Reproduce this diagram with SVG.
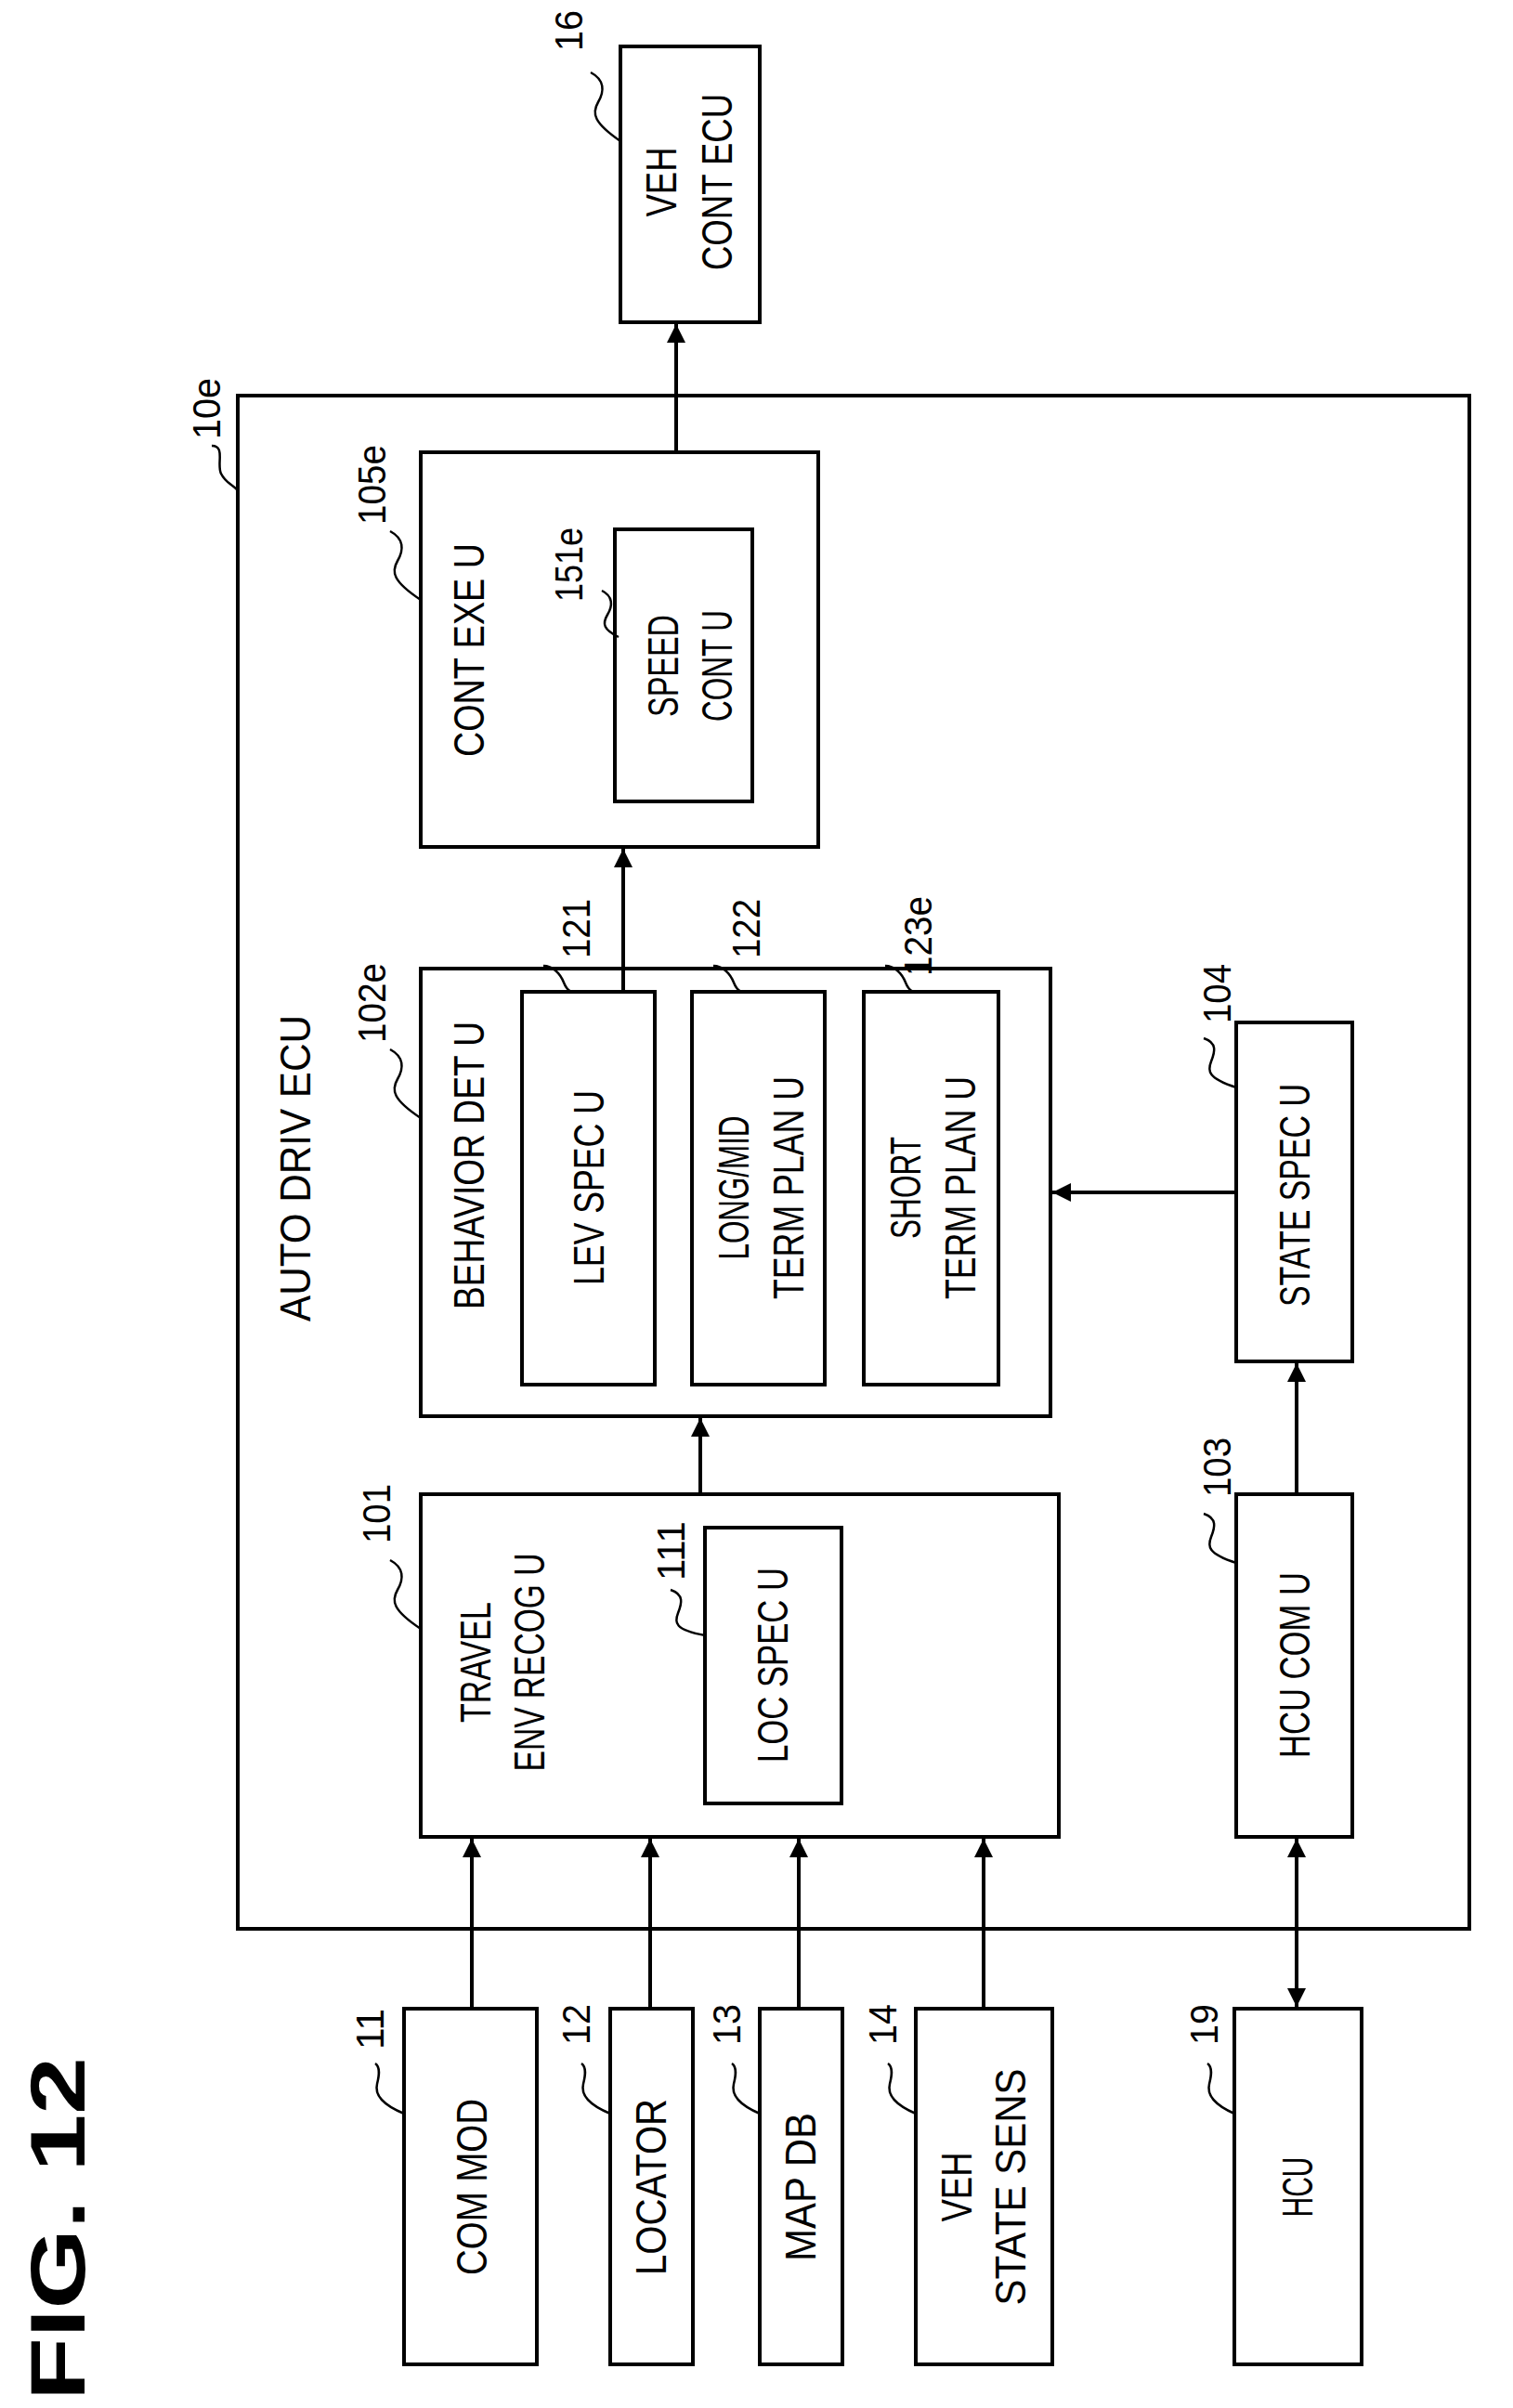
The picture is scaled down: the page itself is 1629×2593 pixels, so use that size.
<svg xmlns="http://www.w3.org/2000/svg" width="1629" height="2593" viewBox="0 0 1629 2593">
<style>
.b{fill:none;stroke:#000;stroke-width:4}
.c{fill:none;stroke:#000;stroke-width:4}
.l{fill:none;stroke:#000;stroke-width:2.5}
text{font-family:"Liberation Sans",Arial,sans-serif;font-size:46px;fill:#000;text-anchor:middle;dominant-baseline:central}
.n{font-size:42px}
</style>
<defs>
<marker id="a" viewBox="0 0 10 10" refX="10" refY="5" markerWidth="22" markerHeight="20" markerUnits="userSpaceOnUse" orient="auto-start-reverse"><path d="M0,0L10,5L0,10z" fill="#000"/></marker>
</defs>
<rect width="1629" height="2593" fill="#fff"/>
<text transform="translate(62 2400) rotate(-90)" style="font-size:84px;font-weight:bold" textLength="370" lengthAdjust="spacingAndGlyphs">FIG. 12</text>

<g id="n10e"><rect class="b" x="256" y="426" width="1326" height="1651"/>
<text transform="translate(318 1258) rotate(-90)" textLength="330" lengthAdjust="spacingAndGlyphs">AUTO DRIV ECU</text>
<text class="n" transform="translate(222 440) rotate(-90)" textLength="66" lengthAdjust="spacingAndGlyphs">10e</text>
<path class="l" d="M228 480c15 0 5 20 10 30s10 10 18 18"/></g>

<g id="n16"><rect class="b" x="668" y="50" width="150" height="297"/>
<text transform="translate(712 196) rotate(-90)" textLength="75" lengthAdjust="spacingAndGlyphs">VEH</text>
<text transform="translate(772 196) rotate(-90)" textLength="190" lengthAdjust="spacingAndGlyphs">CONT ECU</text>
<text class="n" transform="translate(612 33) rotate(-90)" textLength="44" lengthAdjust="spacingAndGlyphs">16</text>
<path class="l" d="M636 78c15 8 15 20 8 32s-5 22 24 42"/></g>

<g id="n105e"><rect class="b" x="453" y="487" width="428" height="425"/>
<text transform="translate(505 700) rotate(-90)" textLength="230" lengthAdjust="spacingAndGlyphs">CONT EXE U</text>
<text class="n" transform="translate(400 522) rotate(-90)" textLength="86" lengthAdjust="spacingAndGlyphs">105e</text>
<path class="l" d="M420 572c15 8 15 20 8 32s-5 22 25 42"/></g>

<g id="n151e"><rect class="b" x="662" y="570" width="148" height="293"/>
<text transform="translate(714 717) rotate(-90)" textLength="110" lengthAdjust="spacingAndGlyphs">SPEED</text>
<text transform="translate(772 717) rotate(-90)" textLength="120" lengthAdjust="spacingAndGlyphs">CONT U</text>
<text class="n" transform="translate(612 608) rotate(-90)" textLength="80" lengthAdjust="spacingAndGlyphs">151e</text>
<path class="l" d="M648 636c12 6 12 16 6 26s-4 16 12 24"/></g>

<g id="n102e"><rect class="b" x="453" y="1043" width="678" height="482"/>
<text transform="translate(505 1255) rotate(-90)" textLength="310" lengthAdjust="spacingAndGlyphs">BEHAVIOR DET U</text>
<text class="n" transform="translate(400 1080) rotate(-90)" textLength="86" lengthAdjust="spacingAndGlyphs">102e</text>
<path class="l" d="M420 1130c15 8 15 20 8 32s-5 22 25 42"/></g>

<g id="n121"><rect class="b" x="562" y="1068" width="143" height="423"/>
<text transform="translate(634 1279) rotate(-90)" textLength="210" lengthAdjust="spacingAndGlyphs">LEV SPEC U</text>
<text class="n" transform="translate(620 1000) rotate(-90)" textLength="64" lengthAdjust="spacingAndGlyphs">121</text>
<path class="l" d="M585 1040c10 0 18 8 22 18s8 10 14 10"/></g>

<g id="n122"><rect class="b" x="745" y="1068" width="143" height="423"/>
<text transform="translate(790 1279) rotate(-90)" textLength="155" lengthAdjust="spacingAndGlyphs">LONG/MID</text>
<text transform="translate(849 1279) rotate(-90)" textLength="240" lengthAdjust="spacingAndGlyphs">TERM PLAN U</text>
<text class="n" transform="translate(803 1000) rotate(-90)" textLength="64" lengthAdjust="spacingAndGlyphs">122</text>
<path class="l" d="M768 1040c10 0 18 8 22 18s8 10 14 10"/></g>

<g id="n123e"><rect class="b" x="930" y="1068" width="145" height="423"/>
<text transform="translate(975 1279) rotate(-90)" textLength="110" lengthAdjust="spacingAndGlyphs">SHORT</text>
<text transform="translate(1034 1279) rotate(-90)" textLength="240" lengthAdjust="spacingAndGlyphs">TERM PLAN U</text>
<text class="n" transform="translate(988 1008) rotate(-90)" textLength="86" lengthAdjust="spacingAndGlyphs">123e</text>
<path class="l" d="M953 1040c10 0 18 8 22 18s8 10 14 10"/></g>

<g id="n104"><rect class="b" x="1331" y="1101" width="125" height="365"/>
<text transform="translate(1394 1287) rotate(-90)" textLength="240" lengthAdjust="spacingAndGlyphs">STATE SPEC U</text>
<text class="n" transform="translate(1310 1070) rotate(-90)" textLength="64" lengthAdjust="spacingAndGlyphs">104</text>
<path class="l" d="M1296 1118c15 5 12 15 8 25s-4 18 27 28"/></g>

<g id="n101"><rect class="b" x="453" y="1609" width="687" height="369"/>
<text transform="translate(512 1790) rotate(-90)" textLength="130" lengthAdjust="spacingAndGlyphs">TRAVEL</text>
<text transform="translate(570 1790) rotate(-90)" textLength="235" lengthAdjust="spacingAndGlyphs">ENV RECOG U</text>
<text class="n" transform="translate(405 1630) rotate(-90)" textLength="64" lengthAdjust="spacingAndGlyphs">101</text>
<path class="l" d="M420 1680c15 8 15 20 8 32s-5 22 25 42"/></g>

<g id="n111"><rect class="b" x="759" y="1645" width="147" height="297"/>
<text transform="translate(832 1793) rotate(-90)" textLength="210" lengthAdjust="spacingAndGlyphs">LOC SPEC U</text>
<text class="n" transform="translate(722 1670) rotate(-90)" textLength="64" lengthAdjust="spacingAndGlyphs">111</text>
<path class="l" d="M722 1712c15 5 12 15 8 25s-4 18 29 24"/></g>

<g id="n103"><rect class="b" x="1331" y="1609" width="125" height="369"/>
<text transform="translate(1394 1793) rotate(-90)" textLength="200" lengthAdjust="spacingAndGlyphs">HCU COM U</text>
<text class="n" transform="translate(1310 1580) rotate(-90)" textLength="64" lengthAdjust="spacingAndGlyphs">103</text>
<path class="l" d="M1296 1630c15 5 12 15 8 25s-4 18 27 28"/></g>

<g id="n11"><rect class="b" x="435" y="2163" width="143" height="383"/>
<text transform="translate(508 2355) rotate(-90)" textLength="190" lengthAdjust="spacingAndGlyphs">COM MOD</text>
<text class="n" transform="translate(398 2185) rotate(-90)" textLength="44" lengthAdjust="spacingAndGlyphs">11</text>
<path class="l" d="M404 2222c6 4 4 14 2 22s0 20 29 32"/></g>

<g id="n12"><rect class="b" x="657" y="2163" width="89" height="383"/>
<text transform="translate(701 2355) rotate(-90)" textLength="190" lengthAdjust="spacingAndGlyphs">LOCATOR</text>
<text class="n" transform="translate(620 2180) rotate(-90)" textLength="44" lengthAdjust="spacingAndGlyphs">12</text>
<path class="l" d="M626 2222c6 4 4 14 2 22s0 20 29 32"/></g>

<g id="n13"><rect class="b" x="818" y="2163" width="89" height="383"/>
<text transform="translate(862 2355) rotate(-90)" textLength="160" lengthAdjust="spacingAndGlyphs">MAP DB</text>
<text class="n" transform="translate(782 2180) rotate(-90)" textLength="44" lengthAdjust="spacingAndGlyphs">13</text>
<path class="l" d="M788 2222c6 4 4 14 2 22s0 20 28 32"/></g>

<g id="n14"><rect class="b" x="986" y="2163" width="147" height="383"/>
<text transform="translate(1030 2355) rotate(-90)" textLength="75" lengthAdjust="spacingAndGlyphs">VEH</text>
<text transform="translate(1088 2355) rotate(-90)" textLength="255" lengthAdjust="spacingAndGlyphs">STATE SENS</text>
<text class="n" transform="translate(950 2180) rotate(-90)" textLength="44" lengthAdjust="spacingAndGlyphs">14</text>
<path class="l" d="M956 2222c6 4 4 14 2 22s0 20 28 32"/></g>

<g id="n19"><rect class="b" x="1329" y="2163" width="137" height="383"/>
<text transform="translate(1397 2355) rotate(-90)" textLength="65" lengthAdjust="spacingAndGlyphs">HCU</text>
<text class="n" transform="translate(1296 2180) rotate(-90)" textLength="44" lengthAdjust="spacingAndGlyphs">19</text>
<path class="l" d="M1300 2222c6 4 4 14 2 22s0 20 27 32"/></g>

<g id="connectors">
<path class="c" d="M508 2163V1980" marker-end="url(#a)"/>
<path class="c" d="M700 2163V1980" marker-end="url(#a)"/>
<path class="c" d="M860 2163V1980" marker-end="url(#a)"/>
<path class="c" d="M1059 2163V1980" marker-end="url(#a)"/>
<path class="c" d="M1396 2161V1980" marker-start="url(#a)" marker-end="url(#a)"/>
<path class="c" d="M1396 1609V1468" marker-end="url(#a)"/>
<path class="c" d="M1331 1284H1133" marker-end="url(#a)"/>
<path class="c" d="M754 1609V1527" marker-end="url(#a)"/>
<path class="c" d="M671 1068V914" marker-end="url(#a)"/>
<path class="c" d="M728 487V349" marker-end="url(#a)"/>
</g>
</svg>
